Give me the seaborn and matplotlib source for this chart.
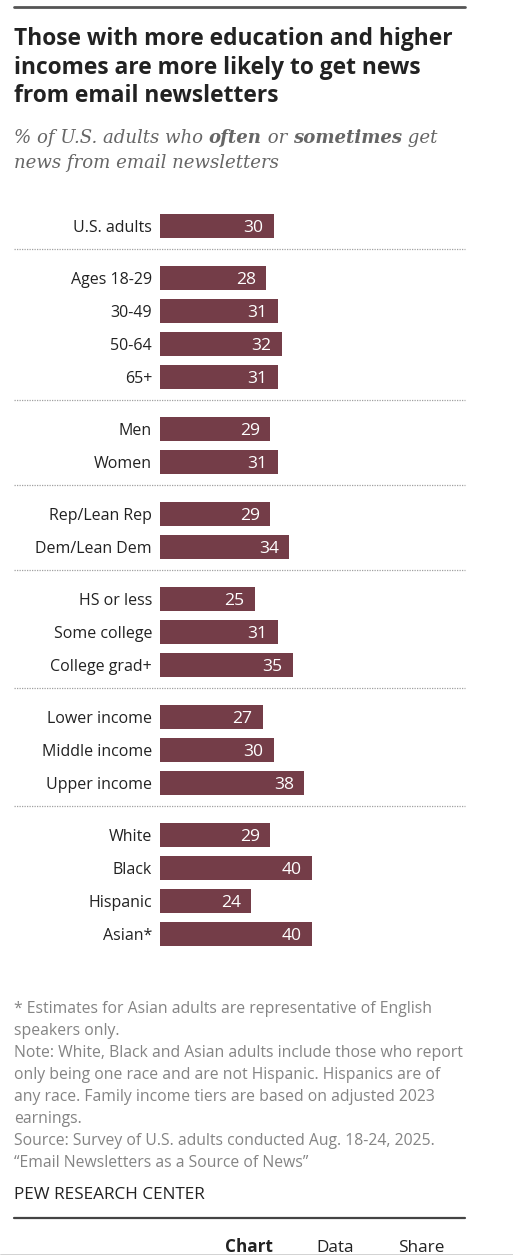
import matplotlib
matplotlib.use("Agg")
import matplotlib.pyplot as plt
import seaborn as sns
import pandas as pd
import numpy as np

# ---------------- data ----------------
categories = ["U.S. adults",
              "Ages 18-29", "30-49", "50-64", "65+",
              "Men", "Women",
              "Rep/Lean Rep", "Dem/Lean Dem",
              "HS or less", "Some college", "College grad+",
              "Lower income", "Middle income", "Upper income",
              "White", "Black", "Hispanic", "Asian*"]
groups = [0, 1, 1, 1, 1, 2, 2, 3, 3, 4, 4, 4, 5, 5, 5, 6, 6, 6, 6]
values = [30, 28, 31, 32, 31, 29, 31, 29, 34, 25, 31, 35, 27, 30, 38, 29, 40, 24, 40]

title_lines = ["Those with more education and higher",
               "incomes are more likely to get news",
               "from email newsletters"]
footnotes = ["* Estimates for Asian adults are representative of English",
             "speakers only.",
             "Note: White, Black and Asian adults include those who report",
             "only being one race and are not Hispanic. Hispanics are of",
             "any race. Family income tiers are based on adjusted 2023",
             "earnings.",
             "Source: Survey of U.S. adults conducted Aug. 18-24, 2025.",
             "\u201cEmail Newsletters as a Source of News\u201d"]

# ---------------- layout ----------------
W, H = 513, 1255
DPI = 100
BAR_COLOR = "#743D48"
SANS = ["Open Sans", "DejaVu Sans"]
SERIF = ["DejaVu Serif"]

sns.set_theme(style="white")
plt.rcParams["font.family"] = SANS

GAP = 19 / 33.0
pos = [i + g * GAP for i, g in enumerate(groups)]
df = pd.DataFrame({"cat": categories, "val": values, "pos": pos})

fig = plt.figure(figsize=(W / DPI, H / DPI), dpi=DPI)
ax = fig.add_axes([0, 0, 1, 1])
renderer = fig.canvas.get_renderer()


def fit_size(text, target_px, **kw):
    t = fig.text(0, 0, text, fontsize=10, **kw)
    w = t.get_window_extent(renderer=renderer).width
    t.remove()
    return 10 * target_px / w


PX_PER_UNIT = 3.8
X0 = 160
ROW_PX = 33
Y0 = 226

sns.barplot(data=df, x="val", y="pos", orient="h", native_scale=True,
            color=BAR_COLOR, saturation=1, width=0.73, ax=ax,
            edgecolor="none", linewidth=0)

ax.set_xlim(-X0 / PX_PER_UNIT, (W - X0) / PX_PER_UNIT)
ax.set_ylim((H - Y0) / ROW_PX, -Y0 / ROW_PX)
ax.axis("off")

lab_size = fit_size("Dem/Lean Dem", 117)
val_size = fit_size("40", 20)
for c, v, p in zip(categories, values, pos):
    ax.text(-8 / PX_PER_UNIT, p, c, ha="right", va="center_baseline",
            fontsize=lab_size, color="#222222")
    ax.text(v - 10.5 / PX_PER_UNIT, p, str(v), ha="right", va="center_baseline",
            fontsize=val_size, color="white")


def px2x(px):
    return (px - X0) / PX_PER_UNIT


for k in range(1, max(groups) + 1):
    last_prev = max(p for p, g in zip(pos, groups) if g == k - 1)
    first_next = min(p for p, g in zip(pos, groups) if g == k)
    ymid = (last_prev + first_next) / 2 - 0.1
    ax.plot([px2x(14), px2x(465)], [ymid, ymid], color="#a0a0a0",
            lw=0.9, ls=(0, (1, 1)))


# ---------------- header ----------------
def fy(px):
    return 1 - px / H


def fx(px):
    return px / W


fig.add_artist(plt.Line2D([fx(14), fx(465)], [fy(6.5), fy(6.5)],
                          color="#555555", lw=2))

title_size = fit_size(title_lines[0], 438, fontweight="bold")
for i, line in enumerate(title_lines):
    fig.text(fx(14), fy(45 + i * 28.5), line, fontsize=title_size,
             fontweight="bold", color="#222222", ha="left", va="baseline")


def runs(x_px, y_px, parts, size, color):
    x = fx(x_px)
    for txt, wt in parts:
        t = fig.text(x, fy(y_px), txt, fontsize=size, style="italic",
                     fontweight=wt, family=SERIF, color=color,
                     ha="left", va="baseline")
        bb = t.get_window_extent(renderer=renderer)
        x = bb.x1 / W
    return x * W - x_px


sub_color = "#666666"
sub1 = [("% of U.S. adults who ", "normal"), ("often", "bold"),
        (" or ", "normal"), ("sometimes", "bold"), (" get", "normal")]
tmp = []
xx = 0
for txt, wt in sub1:
    t = fig.text(0, 0, txt, fontsize=10, style="italic", fontweight=wt,
                 family=SERIF)
    xx += t.get_window_extent(renderer=renderer).width
    tmp.append(t)
for t in tmp:
    t.remove()
sub_size = 10 * 424 / xx
runs(14, 143, sub1, sub_size, sub_color)
runs(14, 168, [("news from email newsletters", "normal")], sub_size, sub_color)

# ---------------- footer ----------------
foot_size = fit_size(footnotes[2], 449)
for i, line in enumerate(footnotes):
    fig.text(fx(14), fy(1013 + i * 22), line, fontsize=foot_size,
             color="#848484", ha="left", va="baseline")

pew_size = fit_size("PEW RESEARCH CENTER", 191)
fig.text(fx(14), fy(1199), "PEW RESEARCH CENTER", fontsize=pew_size,
         color="#222222", ha="left", va="baseline")
fig.add_artist(plt.Line2D([fx(14), fx(465)], [fy(1218), fy(1218)],
                          color="#444444", lw=1.6))
tab_size = fit_size("Share", 46)
fig.text(fx(225), fy(1252), "Chart", fontsize=tab_size, fontweight="bold",
         color="#222222", ha="left", va="baseline")
fig.text(fx(316), fy(1252), "Data", fontsize=tab_size, color="#222222",
         ha="left", va="baseline")
fig.text(fx(398), fy(1252), "Share", fontsize=tab_size, color="#222222",
         ha="left", va="baseline")
fig.add_artist(plt.Line2D([0, 1], [fy(1254.5), fy(1254.5)],
                          color="#222222", lw=1))

fig.savefig("out.png", dpi=DPI, facecolor="white")
